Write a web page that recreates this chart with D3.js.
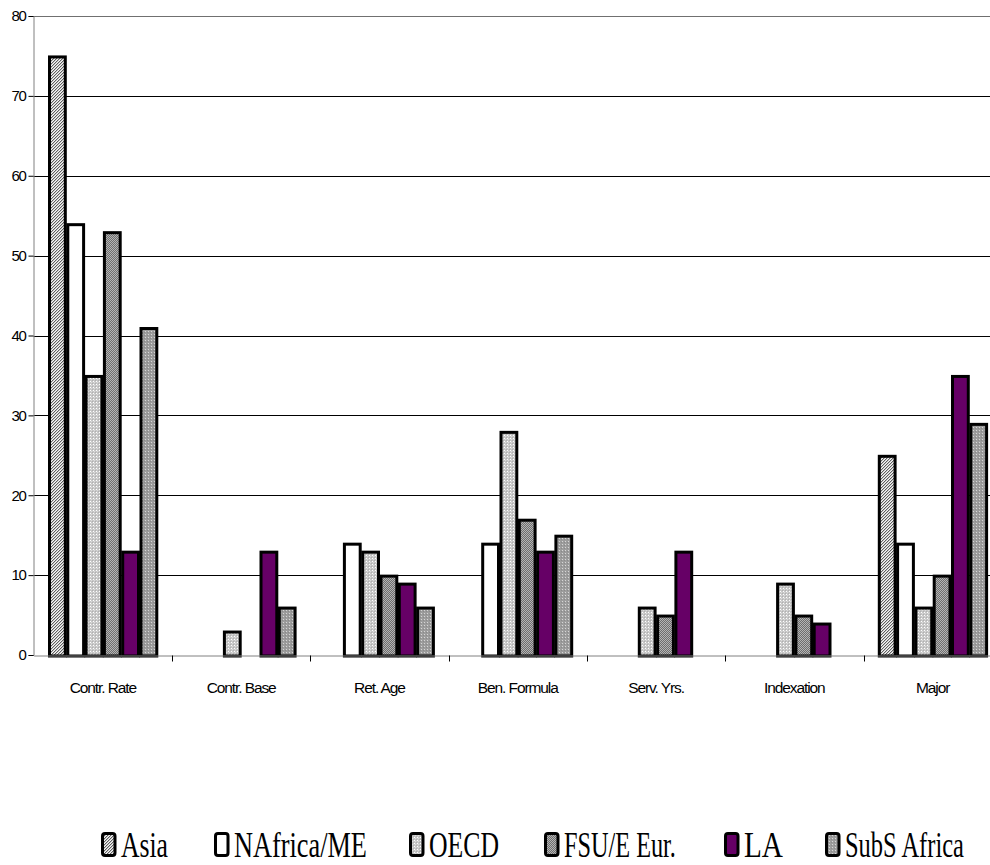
<!DOCTYPE html>
<html>
<head>
<meta charset="utf-8">
<script src="https://cdn.jsdelivr.net/npm/d3@7"></script>
<style>
  html, body { margin: 0; padding: 0; background: #fff; }
  svg { display: block; }
</style>
</head>
<body>
<svg id="chart" width="990" height="865"></svg>
<script>
// Reform categories along the x axis
const categories = ["Contr. Rate", "Contr. Base", "Ret. Age", "Ben. Formula", "Serv. Yrs.", "Indexation", "Major"];
// Regions (one bar per region in each category)
const regions = ["Asia", "NAfrica/ME", "OECD", "FSU/E Eur.", "LA", "SubS Africa"];
// Values per region, in category order
const asia       = [75, 0, 0, 0, 0, 0, 25];
const nafrica    = [54, 0, 14, 14, 0, 0, 14];
const oecd       = [35, 3, 13, 28, 6, 9, 6];
const fsu        = [53, 0, 10, 17, 5, 5, 10];
const la         = [13, 13, 9, 13, 13, 4, 35];
const subsafrica = [41, 6, 6, 15, 0, 0, 29];
const yTicks = [0, 10, 20, 30, 40, 50, 60, 70, 80];

const seriesValues = [asia, nafrica, oecd, fsu, la, subsafrica];

const svg = d3.select("#chart");

// ---- fill patterns ----
const defs = svg.append("defs");
function pixelPattern(id, size, bg, pixels) {
  const p = defs.append("pattern").attr("id", id)
    .attr("patternUnits", "userSpaceOnUse")
    .attr("width", size).attr("height", size);
  p.append("rect").attr("width", size).attr("height", size).attr("fill", bg);
  pixels.forEach(([x, y, c]) => p.append("rect").attr("x", x).attr("y", y)
    .attr("width", 1).attr("height", 1).attr("fill", c));
}
// fine diagonal hatch
const diag = [];
for (let yy = 0; yy < 3; yy++) for (let xx = 0; xx < 3; xx++) {
  if ((xx + yy) % 3 === 0) diag.push([xx, yy, "#5e5e5e"]);
  else if ((xx + yy) % 3 === 1) diag.push([xx, yy, "#c4c4c4"]);
}
pixelPattern("pAsia", 3, "#f6f6f6", diag);
// light dots
pixelPattern("pOecd", 3, "#c6c6c6", [[0, 0, "#ffffff"], [1, 1, "#dcdcdc"], [2, 2, "#b0b0b0"]]);
// dark checker
pixelPattern("pFsu", 2, "#6e6e6e", [[0, 0, "#b4b4b4"], [1, 1, "#b4b4b4"]]);
// medium grey with pale dots
pixelPattern("pSubs", 3, "#9c9c9c", [[1, 1, "#d6d6d6"], [0, 2, "#8a8a8a"]]);

const fills = {
  "Asia": "url(#pAsia)",
  "NAfrica/ME": "#ffffff",
  "OECD": "url(#pOecd)",
  "FSU/E Eur.": "url(#pFsu)",
  "LA": "#660066",
  "SubS Africa": "url(#pSubs)"
};

// ---- scales ----
const plotLeft = 33.7, step = 138.3, plotBottom = 655, plotTop = 16;
const x0 = d3.scaleBand().domain(categories)
  .range([plotLeft, plotLeft + step * categories.length]).padding(0);
const x1 = d3.scaleBand().domain(regions).range([14.3, 14.3 + 6 * 18.3]).padding(0);
const y = d3.scaleLinear().domain([0, 80]).range([plotBottom, plotTop]);

// ---- gridlines ----
svg.append("g").selectAll("line").data(yTicks.filter(t => t > 0)).join("line")
  .attr("x1", plotLeft).attr("x2", 990)
  .attr("y1", d => Math.round(y(d)) + 0.5).attr("y2", d => Math.round(y(d)) + 0.5)
  .attr("stroke", d => d === 80 ? "#707070" : "#000").attr("stroke-width", 1);

// ---- bars ----
const rows = [];
categories.forEach((c, ci) => regions.forEach((r, ri) => {
  const v = seriesValues[ri][ci];
  if (v > 0) rows.push({ c, r, v });
}));
svg.append("g").selectAll("rect").data(rows).join("rect")
  .attr("x", d => x0(d.c) + x1(d.r) + 1.5)
  .attr("y", d => y(d.v) + 1)
  .attr("width", x1.bandwidth() - 2.5)
  .attr("height", d => y(0) - y(d.v))
  .attr("fill", d => fills[d.r])
  .attr("stroke", "#000").attr("stroke-width", 3);

// ---- y axis ----
const yAxis = d3.axisLeft(y).tickValues(yTicks).tickSize(5).tickPadding(3);
const gy = svg.append("g").attr("transform", `translate(${Math.round(plotLeft) - 0.5},0)`).call(yAxis);
gy.select(".domain").attr("stroke", "#808080");
gy.selectAll(".tick line").attr("stroke", "#000");
gy.selectAll(".tick text")
  .attr("font-family", "Liberation Sans, Arial, sans-serif")
  .attr("font-size", 15).attr("letter-spacing", "-1.3px").attr("fill", "#000");

// ---- x axis ----
const xAxis = d3.axisBottom(x0).tickSize(0).tickPadding(0);
const gx = svg.append("g").attr("transform", `translate(0,${plotBottom + 0.5})`).call(xAxis);
gx.select(".domain").attr("stroke", "#808080");
gx.selectAll(".tick text")
  .attr("dy", 0).attr("y", 37)
  .attr("font-family", "Liberation Sans, Arial, sans-serif")
  .attr("font-size", 15.5).attr("letter-spacing", "-1.1px").attr("fill", "#000");
// category separators
gx.append("g").selectAll("line").data(categories.slice(1)).join("line")
  .attr("x1", d => Math.round(x0(d)) + 0.5).attr("x2", d => Math.round(x0(d)) + 0.5)
  .attr("y1", 0).attr("y2", 6).attr("stroke", "#000");

// ---- legend ----
const legendX = [101, 214, 409, 544, 724, 825];
const legendW = [47, 133, 70, 112, 39, 119];
const lg = svg.append("g");
regions.forEach((r, i) => {
  lg.append("rect")
    .attr("x", legendX[i] + 1.5).attr("y", 833.5)
    .attr("width", 12.5).attr("height", 22)
    .attr("rx", 2.5).attr("ry", 2.5)
    .attr("fill", fills[r]).attr("stroke", "#000").attr("stroke-width", 3);
  const t = lg.append("text")
    .attr("x", 0).attr("y", 0)
    .attr("font-family", "Liberation Serif, Times New Roman, serif")
    .attr("font-size", 36)
    .attr("fill", "#000")
    .text(r);
  // squeeze each label horizontally to its slot width
  const natural = t.node().getComputedTextLength();
  t.attr("transform", `translate(${legendX[i] + 20},857) scale(${legendW[i] / natural},1)`);
});
</script>
</body>
</html>
